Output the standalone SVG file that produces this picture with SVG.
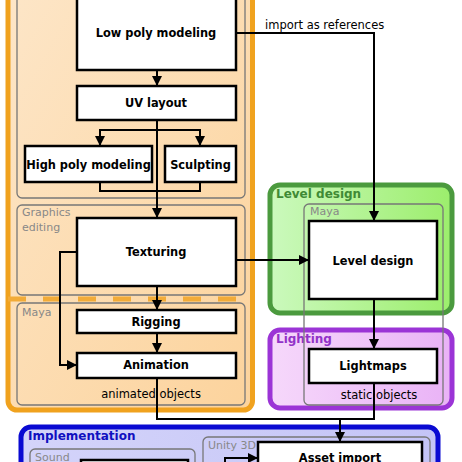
<svg xmlns="http://www.w3.org/2000/svg" width="462" height="462" viewBox="0 0 462 462">
<defs>
<linearGradient id="gOrange" x1="0" y1="0" x2="1" y2="1">
<stop offset="0" stop-color="#fde6c8"/><stop offset="1" stop-color="#fcd39c"/>
</linearGradient>
<linearGradient id="gGreen" x1="0" y1="0" x2="1" y2="0">
<stop offset="0" stop-color="#cbf9bd"/><stop offset="1" stop-color="#9cee6c"/>
</linearGradient>
<linearGradient id="gPurple" x1="0" y1="0" x2="1" y2="0">
<stop offset="0" stop-color="#f6d8fb"/><stop offset="1" stop-color="#e9b2f6"/>
</linearGradient>
<linearGradient id="gBlue" x1="0" y1="0" x2="1" y2="0">
<stop offset="0" stop-color="#d4d4fa"/><stop offset="1" stop-color="#c4c4f6"/>
</linearGradient>
<marker id="arr" markerUnits="userSpaceOnUse" markerWidth="12" markerHeight="12" viewBox="0 0 12 12" refX="11" refY="6" orient="auto">
<path d="M1,1 L11,6 L1,11 Z" fill="#000"/>
</marker>
</defs>
<style>
.node{fill:#fff;stroke:#000;stroke-width:2.5}
.ntext{font-family:"DejaVu Sans",Verdana,sans-serif;font-weight:bold;font-size:11.4px;fill:#000;text-anchor:middle}
.sub{fill:none;stroke:#777;stroke-width:1.3}
.subl{font-family:"DejaVu Sans",Verdana,sans-serif;font-size:11px;fill:#888}
.plain{font-family:"DejaVu Sans",Verdana,sans-serif;font-size:11.5px;fill:#000}
.glabel{font-family:"DejaVu Sans",Verdana,sans-serif;font-weight:bold;font-size:12px}
.conn{fill:none;stroke:#000;stroke-width:2}
</style>
<rect width="462" height="462" fill="#fff"/>

<g id="group-modeling">
<rect x="8" y="-20" width="244.5" height="430" rx="9" fill="url(#gOrange)" stroke="#f0a21e" stroke-width="5"/>
<line x1="8" y1="299" x2="252" y2="299" stroke="#f2ab38" stroke-width="5" stroke-dasharray="18 17"/>
</g>
<g id="container-top"><rect class="sub" x="17" y="-10" width="228" height="208" rx="5"/></g>
<g id="container-graphics"><rect class="sub" x="17" y="205" width="228" height="90" rx="5"/>
<text class="subl" x="22" y="216">Graphics</text><text class="subl" x="22" y="231">editing</text></g>
<g id="container-maya-left"><rect class="sub" x="17" y="303" width="228" height="102" rx="5"/>
<text class="subl" x="22" y="316">Maya</text>
<text class="plain" x="151" y="398" text-anchor="middle">animated  objects</text></g>

<g id="group-level">
<rect x="270" y="185" width="182" height="128" rx="10" fill="url(#gGreen)" stroke="#4b9a3e" stroke-width="5"/>
<text class="glabel" x="276" y="198" fill="#3f8a35">Level design</text>
</g>
<g id="group-lighting">
<rect x="270" y="330" width="182" height="78" rx="10" fill="url(#gPurple)" stroke="#9b34d6" stroke-width="5"/>
<text class="glabel" x="276" y="343" fill="#9232c8">Lighting</text>
</g>
<g id="container-maya-right"><rect class="sub" x="304" y="204" width="139" height="201" rx="5"/>
<text class="subl" x="310" y="215">Maya</text>
<text class="plain" x="379" y="399" text-anchor="middle">static  objects</text></g>

<g id="group-implementation">
<rect x="21" y="427" width="417" height="60" rx="10" fill="url(#gBlue)" stroke="#0a0ad2" stroke-width="5"/>
<text class="glabel" x="28" y="440" fill="#1010c0">Implementation</text>
</g>
<g id="container-unity"><rect class="sub" x="203" y="437" width="227" height="40" rx="5"/>
<text class="subl" x="208" y="449">Unity 3D</text></g>
<g id="container-sound"><rect class="sub" x="30" y="449" width="165" height="30" rx="5"/>
<text class="subl" x="35" y="461">Sound</text></g>

<g id="connectors">
<path class="conn" d="M157,70 V86" marker-end="url(#arr)"/>
<path class="conn" d="M157,120 V218" marker-end="url(#arr)"/>
<path class="conn" d="M157,130 H100 V146" marker-end="url(#arr)"/>
<path class="conn" d="M157,130 H200 V146" marker-end="url(#arr)"/>
<path class="conn" d="M100,182 V191 H200 V182"/>
<path class="conn" d="M157,286 V310" marker-end="url(#arr)"/>
<path class="conn" d="M157,333 V353" marker-end="url(#arr)"/>
<path class="conn" d="M77,252 H60 V365 H77" marker-end="url(#arr)"/>
<path class="conn" d="M236,33 H374 V221" marker-end="url(#arr)"/>
<path class="conn" d="M236,260 H309" marker-end="url(#arr)"/>
<path class="conn" d="M374,299 V349" marker-end="url(#arr)"/>
<path class="conn" d="M157,378 V419 H374 V383"/>
<path class="conn" d="M340,419 V442" marker-end="url(#arr)"/>
<path class="conn" d="M225,470 V458 H258" marker-end="url(#arr)"/>
<text class="plain" x="265" y="29">import as references</text>
</g>

<g id="node-lowpoly"><rect class="node" x="77" y="-10" width="159" height="80"/><text class="ntext" x="156" y="37">Low poly modeling</text></g>
<g id="node-uv"><rect class="node" x="77" y="86" width="159" height="34"/><text class="ntext" x="156" y="107">UV layout</text></g>
<g id="node-highpoly"><rect class="node" x="25" y="146" width="127" height="36"/><text class="ntext" x="88.5" y="169">High poly modeling</text></g>
<g id="node-sculpting"><rect class="node" x="165" y="146" width="71" height="36"/><text class="ntext" x="200.5" y="169">Sculpting</text></g>
<g id="node-texturing"><rect class="node" x="77" y="218" width="159" height="68"/><text class="ntext" x="156" y="256">Texturing</text></g>
<g id="node-rigging"><rect class="node" x="77" y="310" width="159" height="23"/><text class="ntext" x="156" y="326">Rigging</text></g>
<g id="node-animation"><rect class="node" x="77" y="353" width="159" height="25"/><text class="ntext" x="156" y="369">Animation</text></g>
<g id="node-leveldesign"><rect class="node" x="309" y="221" width="128" height="78"/><text class="ntext" x="373" y="265">Level design</text></g>
<g id="node-lightmaps"><rect class="node" x="309" y="349" width="128" height="34"/><text class="ntext" x="373" y="370">Lightmaps</text></g>
<g id="node-assetimport"><rect class="node" x="258" y="442" width="164" height="40"/><text class="ntext" x="340" y="462">Asset import</text></g>
<g id="node-sound"><rect class="node" x="81" y="460" width="107" height="30"/></g>
</svg>
